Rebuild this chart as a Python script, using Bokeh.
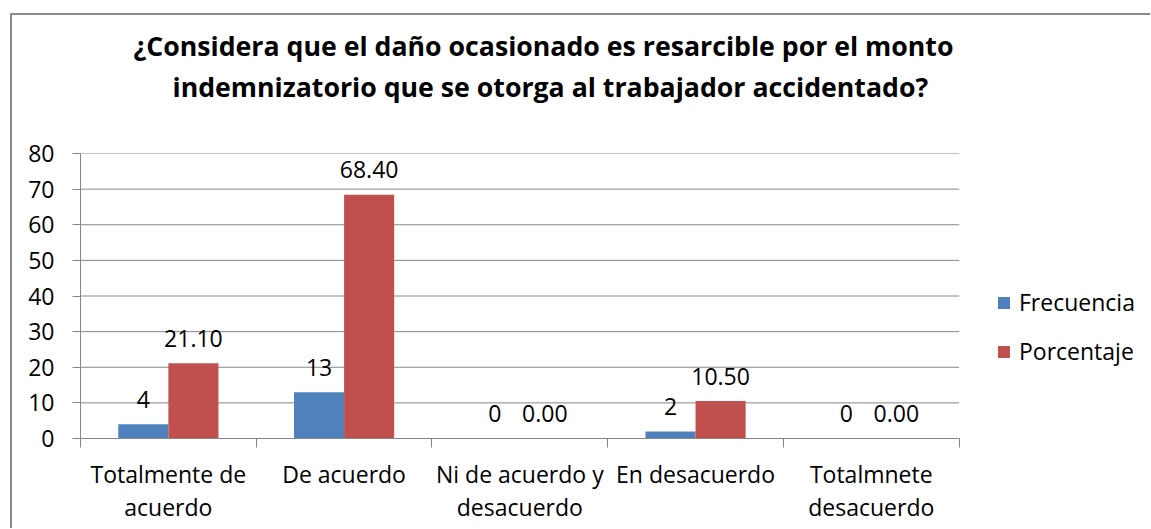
from bokeh.plotting import figure
from bokeh.models import (Range1d, LinearAxis, FixedTicker, ColumnDataSource, Legend,
                          LegendItem, Title)
from bokeh.core.properties import value
from bokeh.embed import file_html
from bokeh.resources import INLINE

title_lines = ["¿Considera que el daño ocasionado es resarcible por el monto",
               "indemnizatorio que se otorga al trabajador accidentado?"]
categories = ["Totalmente de\nacuerdo", "De acuerdo", "Ni de acuerdo y\ndesacuerdo",
              "En desacuerdo", "Totalmnete\ndesacuerdo"]
series_names = ["Frecuencia", "Porcentaje"]
frecuencia = [4, 13, 0, 2, 0]
porcentaje = [21.10, 68.40, 0.00, 10.50, 0.00]
y_ticks = [0, 10, 20, 30, 40, 50, 60, 70, 80]

BLUE = "#4F81BD"
RED = "#C0504D"
GRID = "#868686"
FONT = "Open Sans"
FS = "23px"

n = len(categories)
centers = [i + 0.5 for i in range(n)]
off = 0.1425
w = 0.285

src = ColumnDataSource(dict(
    xc=centers,
    x_f=[c - off for c in centers],
    x_p=[c + off for c in centers],
    frec=frecuencia,
    porc=porcentaje,
    frec_lbl=[str(v) for v in frecuencia],
    porc_lbl=["%.2f" % v for v in porcentaje],
))

# plot area: categories occupy 877 px of a 1068 px wide frame (room for the legend)
x_end = n * 1068 / 877

p = figure(width=1140, height=515, x_range=Range1d(0, x_end),
           y_range=Range1d(y_ticks[0], y_ticks[-1]),
           output_backend="svg", toolbar_location=None, x_axis_location=None,
           min_border_left=68, min_border_right=2, min_border_top=130, min_border_bottom=92)
p.styles = {"margin-left": "10px", "margin-top": "13px",
            "border-left": "2px solid #8a8a8a", "border-top": "2px solid #8a8a8a"}
p.outline_line_color = None
p.xgrid.grid_line_color = None
p.ygrid.grid_line_color = None

# title panels, stacked outward from the plot area: spacer, second line, first line
p.title = None
p.add_layout(Title(text=" ", standoff=40, text_font=FONT, text_font_size="10px"), "above")
for txt, offs, sd in [(title_lines[1], 92, -14), (title_lines[0], 53, 18)]:
    p.add_layout(Title(text=txt, align="left", offset=offs, standoff=sd,
                       text_font=FONT, text_font_style="bold", text_font_size="26.7px",
                       text_color="black"), "above")

# horizontal gridlines over the category area only
p.segment(x0=[0] * len(y_ticks), x1=[n] * len(y_ticks), y0=y_ticks, y1=y_ticks,
          line_color=GRID, line_width=1)

yax = p.yaxis[0]
yax.ticker = FixedTicker(ticks=y_ticks)
yax.axis_line_color = GRID
yax.major_tick_line_color = GRID
yax.major_tick_in = 0
yax.major_tick_out = 8
yax.minor_tick_line_color = None
yax.major_label_standoff = 18
yax.major_label_text_font = FONT
yax.major_label_text_font_size = FS
yax.major_label_text_color = "black"

xax = LinearAxis(ticker=FixedTicker(ticks=centers, minor_ticks=list(range(n + 1))),
                 bounds=(0, n),
                 major_label_overrides={c: lab for c, lab in zip(centers, categories)},
                 axis_line_color=GRID, major_tick_line_color=None,
                 major_tick_in=0, major_tick_out=9,
                 minor_tick_line_color=GRID, minor_tick_in=0, minor_tick_out=9,
                 major_label_standoff=10, major_label_text_font=FONT,
                 major_label_text_font_size=FS, major_label_text_color="black",
                 major_label_text_line_height=1.05)
p.add_layout(xax, "below")

r1 = p.vbar(x="x_f", top="frec", width=w, source=src, fill_color=BLUE, line_color=None)
r2 = p.vbar(x="x_p", top="porc", width=w, source=src, fill_color=RED, line_color=None)
p.text(x="x_f", y="frec", text="frec_lbl", source=src,
       text_align="center", text_baseline="middle", y_offset=-25,
       text_font=value(FONT), text_font_size=FS, text_color="black")
p.text(x="x_p", y="porc", text="porc_lbl", source=src,
       text_align="center", text_baseline="middle", y_offset=-25,
       text_font=value(FONT), text_font_size=FS, text_color="black")

lg = Legend(items=[LegendItem(label=nm, renderers=[r]) for nm, r in zip(series_names, [r1, r2])],
            location=(916, 71), glyph_width=15, glyph_height=15, label_height=31,
            label_standoff=8, spacing=17, padding=0, margin=0,
            border_line_color=None, background_fill_alpha=0,
            label_text_font=FONT, label_text_font_size=FS, label_text_color="black")
p.add_layout(lg, "center")

open("out.html", "w").write(file_html(p, INLINE))
